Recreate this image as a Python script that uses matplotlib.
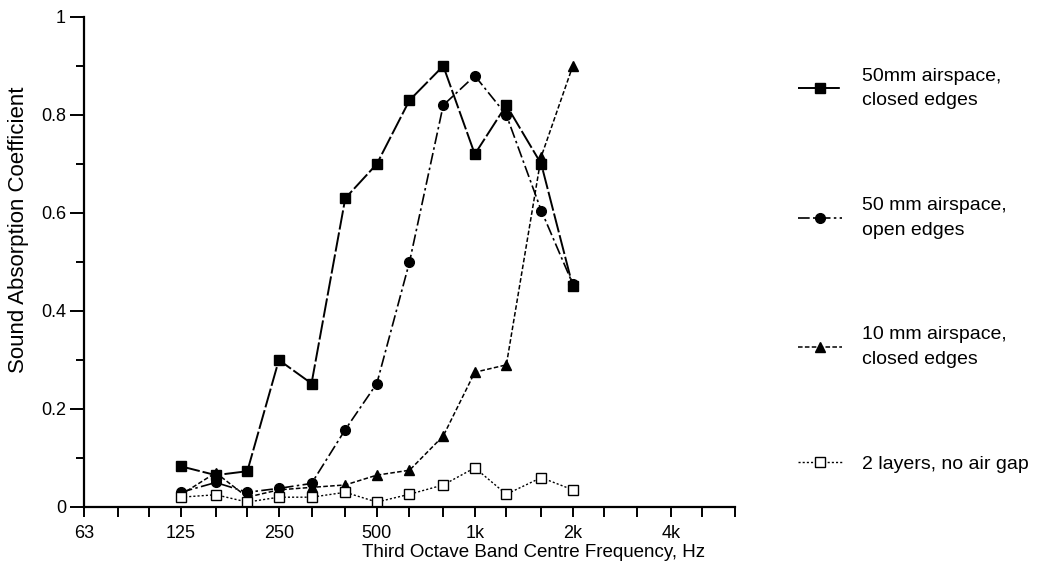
import numpy as np
import matplotlib.pyplot as plt
from matplotlib.ticker import FixedLocator, NullFormatter

plt.rcParams['font.family'] = ['Liberation Sans', 'DejaVu Sans']

# third octave band centres (Hz)
bands = [125, 160, 200, 250, 315, 400, 500, 630, 800, 1000, 1250, 1600, 2000]

closed_50 = [0.083, 0.065, 0.073, 0.30, 0.252, 0.63, 0.70, 0.83, 0.90, 0.72, 0.82, 0.70, 0.45]
open_50 = [0.03, 0.05, 0.03, 0.038, 0.048, 0.158, 0.252, 0.50, 0.82, 0.88, 0.80, 0.605, 0.455]
closed_10 = [0.025, 0.07, 0.02, 0.035, 0.04, 0.045, 0.065, 0.075, 0.145, 0.275, 0.29, 0.715, 0.90]
no_gap = [0.02, 0.025, 0.01, 0.02, 0.02, 0.03, 0.01, 0.026, 0.045, 0.08, 0.026, 0.06, 0.035]

labels = ['50mm airspace,\nclosed edges',
          '50 mm airspace,\nopen edges',
          '10 mm airspace,\nclosed edges',
          '2 layers, no air gap']

third_oct = [63, 80, 100, 125, 160, 200, 250, 315, 400, 500, 630, 800,
             1000, 1250, 1600, 2000, 2500, 3150, 4000, 5000, 6300]
oct_ticks = [63, 125, 250, 500, 1000, 2000, 4000]
oct_labels = ['63', '125', '250', '500', '1k', '2k', '4k']

fig = plt.figure(figsize=(10.4, 5.73), dpi=100)
ax = fig.add_axes([0.0808, 0.1152, 0.6259, 0.8552])

ax.plot(bands, closed_50, color='black', lw=1.4, dashes=(10, 1.5),
        marker='s', ms=7, mfc='black', mec='black', label=labels[0])
ax.plot(bands, open_50, color='black', lw=1.2, dashes=(7, 2, 1.5, 2),
        marker='o', ms=7, mfc='black', mec='black', label=labels[1])
ax.plot(bands, closed_10, color='black', lw=1.1, dashes=(3, 1.5),
        marker='^', ms=7, mfc='black', mec='black', label=labels[2])
ax.plot(bands, no_gap, color='black', lw=1.0, dashes=(1.5, 1.5),
        marker='s', ms=7, mfc='white', mec='black', mew=1.0, label=labels[3])

ax.set_xscale('log')
ax.set_xlim(63, 6300)
ax.set_ylim(0, 1)

ax.xaxis.set_major_locator(FixedLocator(oct_ticks))
ax.set_xticklabels(oct_labels)
ax.xaxis.set_minor_locator(FixedLocator(third_oct))
ax.xaxis.set_minor_formatter(NullFormatter())

ax.set_yticks([0, 0.2, 0.4, 0.6, 0.8, 1.0])
ax.set_yticklabels(['0', '0.2', '0.4', '0.6', '0.8', '1'])
ax.set_yticks(np.arange(0.1, 1.0, 0.2), minor=True)

for s in ['top', 'right']:
    ax.spines[s].set_visible(False)
for s in ['left', 'bottom']:
    ax.spines[s].set_linewidth(1.6)

ax.tick_params(axis='x', which='both', direction='out', length=7, width=1.4,
               labelsize=13, pad=6)
ax.tick_params(axis='y', which='major', direction='out', length=10, width=1.4,
               labelsize=13, pad=3)
ax.tick_params(axis='y', which='minor', direction='out', length=6, width=1.4)

ax.set_xlabel('Third Octave Band Centre Frequency, Hz', fontsize=13.5)
ax.xaxis.set_label_coords(0.69, -0.075)
ax.set_ylabel('Sound Absorption Coefficient', fontsize=16)
ax.yaxis.set_label_coords(-0.085, 0.565)

leg = fig.legend(loc='upper left', bbox_to_anchor=(0.767, 0.882), frameon=False,
                 fontsize=14, handlelength=2.3, handletextpad=1.0,
                 borderpad=0, borderaxespad=0, labelspacing=4.5)
for t in leg.get_texts():
    t.set_linespacing(1.6)

fig.savefig('out.png', dpi=100)
